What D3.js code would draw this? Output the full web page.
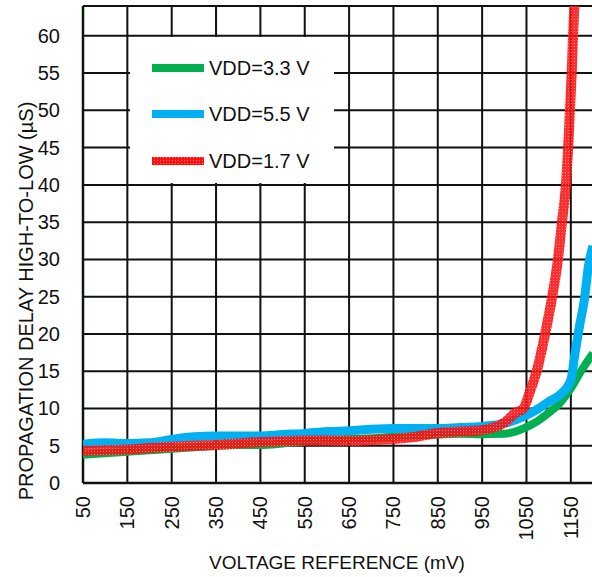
<!DOCTYPE html>
<html>
<head>
<meta charset="utf-8">
<script src="https://cdn.jsdelivr.net/npm/d3@7"></script>
<style>
  html, body { margin: 0; padding: 0; background: #fff; }
  svg { display: block; font-family: "Liberation Sans", Arial, sans-serif; }
  .grid line { stroke: #111; stroke-width: 2; }
</style>
</head>
<body>
<div id="chart"></div>
<script>
// Propagation delay vs voltage reference, three supply voltages

const xTicks = [50, 150, 250, 350, 450, 550, 650, 750, 850, 950, 1050, 1150];
const yTicks = [0, 5, 10, 15, 20, 25, 30, 35, 40, 45, 50, 55, 60];

const greenMv = [50, 100, 150, 200, 250, 300, 350, 400, 450, 500, 550, 600, 650, 700, 750, 800, 850, 900, 950, 1000, 1050, 1075, 1100, 1125, 1150, 1175, 1200];
const greenDelay = [3.8, 4.0, 4.2, 4.4, 4.6, 4.8, 5.0, 5.1, 5.1, 5.3, 5.6, 5.8, 5.9, 6.0, 6.2, 6.35, 6.5, 6.6, 6.55, 6.6, 7.5, 8.3, 9.4, 10.7, 12.7, 15.2, 17.4];

const blueMv = [50, 100, 150, 200, 250, 300, 350, 400, 450, 500, 550, 600, 650, 700, 750, 800, 850, 900, 950, 1000, 1050, 1075, 1100, 1125, 1150, 1160, 1170, 1180, 1190, 1200];
const blueDelay = [5.2, 5.4, 5.3, 5.4, 5.85, 6.2, 6.3, 6.3, 6.3, 6.5, 6.65, 6.9, 7.0, 7.2, 7.3, 7.3, 7.3, 7.45, 7.6, 8.0, 9.1, 9.9, 10.9, 11.8, 13.8, 17.6, 21.2, 24.4, 29.2, 31.8];

const redMv = [50, 100, 150, 200, 250, 300, 350, 400, 450, 500, 550, 600, 650, 700, 750, 800, 850, 900, 950, 1000, 1025, 1043, 1058, 1073, 1092, 1108, 1121, 1130, 1139, 1144, 1148, 1152, 1155, 1158, 1160];
const redDelay = [4.3, 4.4, 4.5, 4.7, 4.85, 5.0, 5.1, 5.3, 5.5, 5.6, 5.7, 5.7, 5.67, 5.75, 5.9, 6.2, 6.7, 6.9, 7.1, 8.1, 9.4, 10, 12.3, 15, 20, 25, 30, 35, 40, 45, 50, 55, 60, 64, 66];

const seriesNames = ['VDD=3.3 V', 'VDD=5.5 V', 'VDD=1.7 V'];

const width = 592, height = 577;
const plot = { left: 83, right: 593, top: 6, bottom: 483 };

const svg = d3.select('#chart').append('svg')
  .attr('width', width)
  .attr('height', height);

const defs = svg.append('defs');

// checkered red fill like the reference's patterned line
const pat = defs.append('pattern')
  .attr('id', 'redPat')
  .attr('patternUnits', 'userSpaceOnUse')
  .attr('width', 3)
  .attr('height', 3);
pat.append('rect').attr('width', 3).attr('height', 3).attr('fill', '#ff1010');
pat.append('rect').attr('x', 1).attr('y', 1).attr('width', 1).attr('height', 1).attr('fill', '#ff8080');

defs.append('clipPath').attr('id', 'plotClip')
  .append('rect')
  .attr('x', plot.left)
  .attr('y', plot.top)
  .attr('width', plot.right - plot.left)
  .attr('height', plot.bottom - plot.top);

const x = d3.scaleLinear().domain([50, 1200]).range([plot.left, plot.right]);
const y = d3.scaleLinear().domain([0, 64]).range([plot.bottom, plot.top]);

// grid
const grid = svg.append('g').attr('class', 'grid');
grid.selectAll('.h')
  .data(yTicks.concat([64]))
  .enter().append('line')
  .attr('x1', plot.left).attr('x2', plot.right)
  .attr('y1', d => y(d)).attr('y2', d => y(d));
grid.selectAll('.v')
  .data(xTicks)
  .enter().append('line')
  .attr('x1', d => x(d)).attr('x2', d => x(d))
  .attr('y1', plot.top).attr('y2', plot.bottom);

// tick labels
svg.append('g')
  .selectAll('text')
  .data(yTicks)
  .enter().append('text')
  .attr('x', 60)
  .attr('y', d => y(d))
  .attr('dy', '0.35em')
  .attr('text-anchor', 'end')
  .attr('font-size', 20)
  .attr('fill', '#111')
  .text(d => d);

svg.append('g')
  .selectAll('text')
  .data(xTicks)
  .enter().append('text')
  .attr('transform', d => `translate(${x(d)},496) rotate(-90)`)
  .attr('dy', '0.35em')
  .attr('text-anchor', 'end')
  .attr('font-size', 20)
  .attr('fill', '#111')
  .text(d => d);

svg.append('text')
  .attr('x', 337)
  .attr('y', 569)
  .attr('text-anchor', 'middle')
  .attr('font-size', 19)
  .attr('fill', '#111')
  .text('VOLTAGE REFERENCE (mV)');

svg.append('text')
  .attr('transform', 'translate(33,301) rotate(-90)')
  .attr('text-anchor', 'middle')
  .attr('font-size', 20)
  .attr('fill', '#111')
  .text('PROPAGATION DELAY  HIGH-TO-LOW (µS)');

// legend box sits over the grid
const legend = svg.append('g');
legend.append('rect')
  .attr('x', 130).attr('y', 37)
  .attr('width', 204).attr('height', 146)
  .attr('fill', '#fff');

const series = [
  { name: seriesNames[0], mv: greenMv, delay: greenDelay, color: '#00b050', w: 8, opacity: 1 },
  { name: seriesNames[1], mv: blueMv, delay: blueDelay, color: '#00b0f0', w: 9, opacity: 1 },
  { name: seriesNames[2], mv: redMv, delay: redDelay, color: 'url(#redPat)', w: 10, opacity: 0.88 }
];

const legendY = [68, 114, 161];
series.forEach((s, i) => {
  legend.append('line')
    .attr('x1', 152).attr('x2', 204)
    .attr('y1', legendY[i]).attr('y2', legendY[i])
    .attr('stroke', s.color)
    .attr('stroke-width', 8);
  legend.append('text')
    .attr('x', 209)
    .attr('y', legendY[i])
    .attr('dy', '0.35em')
    .attr('font-size', 20)
    .attr('fill', '#111')
    .text(s.name);
});

// axis lines
svg.append('line')
  .attr('x1', plot.left).attr('x2', plot.left)
  .attr('y1', plot.top).attr('y2', plot.bottom)
  .attr('stroke', '#0a1a0a').attr('stroke-width', 2.5);
svg.append('line')
  .attr('x1', plot.left).attr('x2', plot.right)
  .attr('y1', plot.bottom).attr('y2', plot.bottom)
  .attr('stroke', '#111').attr('stroke-width', 2.5);

// curves
const line = d3.line()
  .x(d => x(d[0]))
  .y(d => y(d[1]))
  .curve(d3.curveMonotoneX);

const curves = svg.append('g').attr('clip-path', 'url(#plotClip)');
series.forEach(s => {
  curves.append('path')
    .datum(d3.zip(s.mv, s.delay))
    .attr('d', line)
    .attr('fill', 'none')
    .attr('stroke', s.color)
    .attr('stroke-width', s.w)
    .attr('stroke-opacity', s.opacity)
    .attr('stroke-linejoin', 'round');
});
</script>
</body>
</html>
